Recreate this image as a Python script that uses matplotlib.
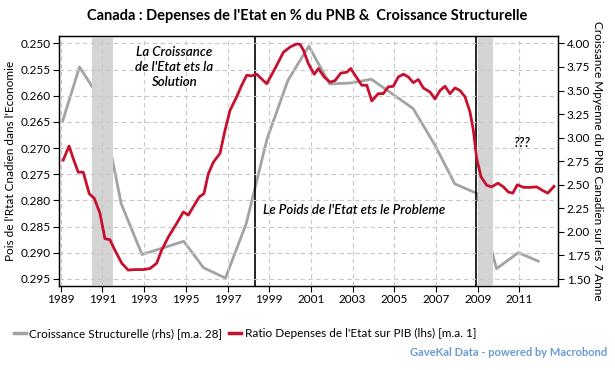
import matplotlib
matplotlib.use("Agg")
import matplotlib.pyplot as plt

plt.rcParams['font.family'] = ['Lato', 'DejaVu Sans']

# Croissance Structurelle (rhs), annual points
growth_years = [1989.1, 1989.9, 1990.9, 1991.9, 1992.9, 1994.9, 1995.85, 1996.9,
                1997.9, 1998.9, 1999.9, 2000.9, 2001.9, 2002.9, 2003.9, 2005.9,
                2006.95, 2007.9, 2008.95, 2009.9, 2010.95, 2011.9]
growth_values = [3.18, 3.75, 3.41, 2.30, 1.76, 1.90, 1.62, 1.51,
                 2.09, 2.99, 3.61, 3.97, 3.57, 3.58, 3.62, 3.31,
                 2.92, 2.51, 2.41, 1.61, 1.78, 1.69]

# Ratio Depenses de l'Etat sur PIB (lhs)
ratio_years = [1989.12, 1989.40, 1989.60, 1989.84, 1990.08, 1990.37, 1990.61, 1990.88,
               1991.12, 1991.36, 1991.60, 1991.93, 1992.24, 1992.56, 1992.96, 1993.28,
               1993.60, 1993.84, 1994.16, 1994.56, 1994.88, 1995.12, 1995.36, 1995.65,
               1995.87, 1996.08, 1996.32, 1996.64, 1996.88, 1997.12, 1997.44, 1997.68,
               1997.92, 1998.16, 1998.40, 1998.88, 1999.28, 1999.68, 2000.00, 2000.32,
               2000.48, 2000.64, 2000.88, 2001.16, 2001.36, 2001.63, 2001.92, 2002.16,
               2002.43, 2002.72, 2002.91, 2003.12, 2003.44, 2003.68, 2003.92, 2004.23,
               2004.47, 2004.71, 2004.95, 2005.19, 2005.43, 2005.67, 2005.91, 2006.15,
               2006.39, 2006.71, 2006.95, 2007.19, 2007.43, 2007.67, 2007.91, 2008.15,
               2008.39, 2008.63, 2008.79, 2008.95, 2009.16, 2009.43, 2009.67, 2009.97,
               2010.23, 2010.47, 2010.68, 2010.90, 2011.19, 2011.51, 2011.83, 2012.11,
               2012.36, 2012.66]
ratio_values = [0.2723, 0.2696, 0.2720, 0.2746, 0.2746, 0.2787, 0.2796, 0.2824,
                0.2873, 0.2875, 0.2895, 0.2920, 0.2933, 0.2932, 0.2932, 0.2930,
                0.2920, 0.2895, 0.2870, 0.2844, 0.2822, 0.2828, 0.2812, 0.2793,
                0.2787, 0.2749, 0.2727, 0.2710, 0.2666, 0.2628, 0.2602, 0.2580,
                0.2561, 0.2562, 0.2559, 0.2577, 0.2548, 0.2517, 0.2507, 0.2501,
                0.2502, 0.2513, 0.2539, 0.2559, 0.2548, 0.2564, 0.2574, 0.2571,
                0.2557, 0.2555, 0.2548, 0.2561, 0.2580, 0.2580, 0.2610, 0.2596,
                0.2596, 0.2583, 0.2582, 0.2564, 0.2559, 0.2564, 0.2575, 0.2569,
                0.2585, 0.2593, 0.2606, 0.2590, 0.2582, 0.2596, 0.2585, 0.2590,
                0.2602, 0.2631, 0.2666, 0.2720, 0.2755, 0.2771, 0.2774, 0.2767,
                0.2774, 0.2784, 0.2786, 0.2770, 0.2775, 0.2775, 0.2774, 0.2781,
                0.2786, 0.2773]

recessions = [(1990.52, 1991.49), (2009.0, 2009.75)]
marker_years = [1998.33, 2008.92]

x_ticks = list(range(1989, 2012, 2))
left_ticks = [0.250, 0.255, 0.260, 0.265, 0.270, 0.275, 0.280, 0.285, 0.290, 0.295]
right_ticks = [4.00, 3.75, 3.50, 3.25, 3.00, 2.75, 2.50, 2.25, 2.00, 1.75, 1.50]

red = '#c8102e'
grey = '#a3a3a3'

fig = plt.figure(figsize=(6.15, 3.70), dpi=100)
ax = fig.add_axes([0.096, 0.227, 0.812, 0.676])
ax2 = ax.twinx()

for a, b in recessions:
    ax.axvspan(a, b, color='#d4d4d4', lw=0, zorder=0)
for yr in marker_years:
    ax.axvline(yr, color='black', lw=1.2, zorder=1)

ax.plot(ratio_years, ratio_values, color=red, lw=2.0, zorder=3)
ax2.plot(growth_years, growth_values, color=grey, lw=2.0)

ax.set_zorder(ax2.get_zorder() + 1)
ax.patch.set_visible(False)

ax.set_xlim(1988.92, 2012.87)
ax.set_ylim(0.29634, 0.24857)
ax2.set_ylim(1.426, 4.080)

ax.set_xticks(x_ticks)
ax.set_yticks(left_ticks)
ax.set_yticklabels(['%.3f' % v for v in left_ticks])
ax2.set_yticks(right_ticks)
ax2.set_yticklabels(['%.2f' % v for v in right_ticks])

ax.grid(True, color='#c8c8c8', ls=(0, (4, 3)), lw=0.8)
ax.tick_params(labelsize=8.5, length=4, width=0.8, direction='out', pad=2)
ax2.tick_params(labelsize=8.5, length=4, width=0.8, direction='out', pad=2)

for a in (ax, ax2):
    for s in a.spines.values():
        s.set_linewidth(0.9)

ax.set_ylabel("Pois de l'Rtat Cnadien dans l'Economie", fontsize=8.5, labelpad=3)
ax2.set_ylabel("Croissance Mpyenne du PNB Canadien sur les 7 Anne", fontsize=8.5,
               rotation=270, labelpad=9)

note_style = dict(style='italic', fontweight='semibold', fontsize=9.5)
ax.text(1994.45, 0.2505, "La Croissance\nde l'Etat ets la\nSolution",
        ha='center', va='top', linespacing=1.3, **note_style)
ax.text(1998.7, 0.2818, "Le Poids de l'Etat ets le Probleme",
        ha='left', va='center', **note_style)
ax.text(2011.15, 0.2690, "???", ha='center', va='center', **note_style)

fig.suptitle("Canada : Depenses de l'Etat en % du PNB &  Croissance Structurelle",
             fontsize=10.5, fontweight='bold', y=0.975)

ax.legend(handles=[
    plt.Line2D([], [], color=grey, lw=2.5, label='Croissance Structurelle (rhs) [m.a. 28]'),
    plt.Line2D([], [], color=red, lw=2.5, label="Ratio Depenses de l'Etat sur PIB (lhs) [m.a. 1]")],
    loc='upper left', bbox_to_anchor=(-0.1, -0.15), ncol=2, frameon=False,
    fontsize=8.5, handlelength=1.0, handletextpad=0.3, columnspacing=0.6, borderaxespad=0)

fig.text(0.988, 0.048, "GaveKal Data - powered by Macrobond", color='#6a9bd1',
         fontsize=8, fontweight='bold', ha='right', va='center')

fig.savefig('out.png', dpi=100)
